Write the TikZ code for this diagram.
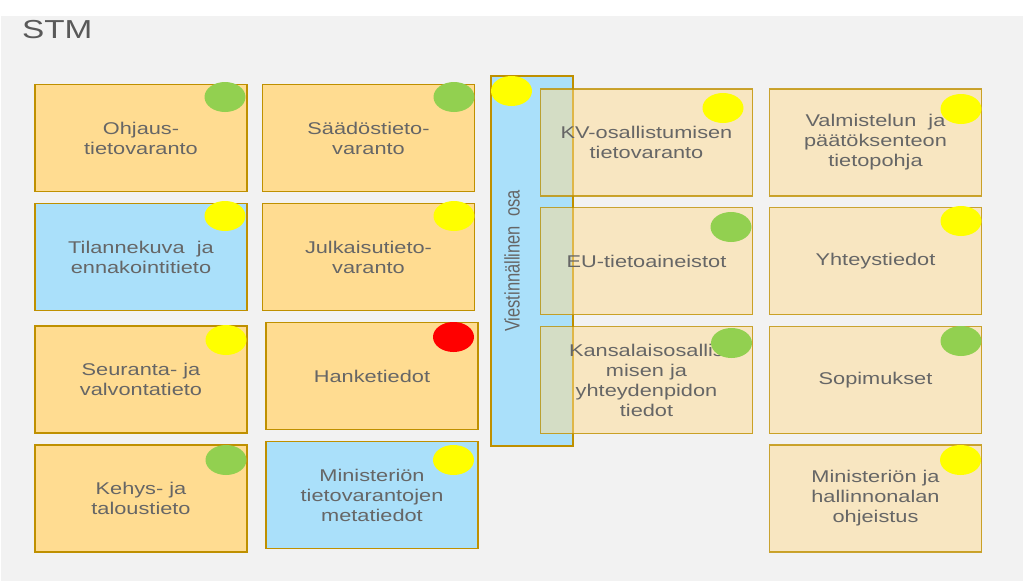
\documentclass[tikz,border=0pt]{standalone}
\usepackage{fontspec}
\usepackage{graphicx}
\setmainfont{Liberation Sans}[FakeStretch=1.28]
\newfontfamily\plainsans{Liberation Sans}
\usetikzlibrary{shapes.geometric}
\definecolor{bggray}{HTML}{F2F2F2}
\definecolor{gold}{HTML}{FFDC91}
\definecolor{skyblue}{HTML}{AAE0FA}
\definecolor{edge}{HTML}{BF9000}
\definecolor{labelgray}{HTML}{666666}
\definecolor{titlegray}{HTML}{595959}
\definecolor{dotgreen}{HTML}{92D050}
\definecolor{dotyellow}{HTML}{FFFF00}
\definecolor{dotred}{HTML}{FF0000}
\tikzset{
  tile/.style={draw=edge, line width=1.3pt, inner sep=0pt, outer sep=0pt,
    minimum width=212pt, minimum height=107pt, align=center,
    text=labelgray, font=\fontsize{17}{20}\selectfont},
  goldtile/.style={tile, fill=gold},
  bluetile/.style={tile, fill=skyblue},
  softtile/.style={tile, fill=gold, fill opacity=0.5, draw opacity=0.8, text opacity=1},
  dot/.style={ellipse, draw=none, inner sep=0pt, minimum width=41pt, minimum height=30pt},
}
\begin{document}
\begin{tikzpicture}[x=1pt, y=-1pt]
\useasboundingbox (0,0) rectangle (1023,581);
\fill[bggray] (1,16) rectangle (1023,581);
\node[anchor=west, text=titlegray, font=\fontsize{26}{30}\selectfont, inner sep=0pt] (title) at (22,30) {STM};

% first column
\node[goldtile] (ohjaus) at (141,138) {Ohjaus-\\tietovaranto};
\node[bluetile] (tilanne) at (141,257) {Tilannekuva\ \ ja\\ennakointitieto};
\node[goldtile] (seuranta) at (141,379.5) {Seuranta- ja\\valvontatieto};
\node[goldtile] (kehys) at (141,498.5) {Kehys- ja\\taloustieto};

% second column
\node[goldtile] (saados) at (368.5,138) {Säädöstieto-\\varanto};
\node[goldtile] (julkaisu) at (368.5,257) {Julkaisutieto-\\varanto};
\node[goldtile] (hanke) at (372,376) {Hanketiedot};
\node[bluetile] (meta) at (372,495) {Ministeriön\\tietovarantojen\\metatiedot};

% communication bar
\node[draw=edge, line width=1.3pt, fill=skyblue, inner sep=0pt, minimum width=82pt, minimum height=370pt] (bar) at (532,261) {};
\node[rotate=90, text=labelgray, inner sep=0pt] (barlabel) at (512,261)
  {\scalebox{1}[1.28]{\plainsans\fontsize{16.5}{20}\selectfont Viestinnällinen\ \ osa}};
\node[dot, fill=dotyellow] (bar-d) at (511.5,91) {};

% third column
\node[softtile] (kv) at (646.5,142.5) {KV-osallistumisen\\tietovaranto};
\node[softtile] (eu) at (646.5,261) {EU-tietoaineistot};
\node[softtile] (kansalais) at (646.5,380) {Kansalaisosallis\\misen ja\\yhteydenpidon\\tiedot};

% fourth column
\node[softtile] (valmistelu) at (875.5,142.5) {Valmistelun\ \ ja\\päätöksenteon\\tietopohja};
\node[softtile] (yhteys) at (875.5,261) {Yhteystiedot};
\node[softtile] (sopimus) at (875.5,380) {Sopimukset};
\node[softtile] (ohjeistus) at (875.5,498.5) {Ministeriön ja\\hallinnonalan\\ohjeistus};

% status markers
\node[dot, fill=dotgreen] (ohjaus-d) at (225,97) {};
\node[dot, fill=dotyellow] (tilanne-d) at (225,216) {};
\node[dot, fill=dotyellow] (seuranta-d) at (226,340) {};
\node[dot, fill=dotgreen] (kehys-d) at (226,460) {};
\node[dot, fill=dotgreen] (saados-d) at (454,97) {};
\node[dot, fill=dotyellow] (julkaisu-d) at (454,216) {};
\node[dot, fill=dotred] (hanke-d) at (453.5,337) {};
\node[dot, fill=dotyellow] (meta-d) at (453.5,460) {};
\node[dot, fill=dotyellow] (kv-d) at (723,108) {};
\node[dot, fill=dotgreen] (eu-d) at (731,227) {};
\node[dot, fill=dotgreen] (kansalais-d) at (731.5,343) {};
\node[dot, fill=dotyellow] (valmistelu-d) at (961,109) {};
\node[dot, fill=dotyellow] (yhteys-d) at (961,221) {};
\node[dot, fill=dotgreen] (sopimus-d) at (961,341) {};
\node[dot, fill=dotyellow] (ohjeistus-d) at (960.5,460) {};
\end{tikzpicture}
\end{document}
